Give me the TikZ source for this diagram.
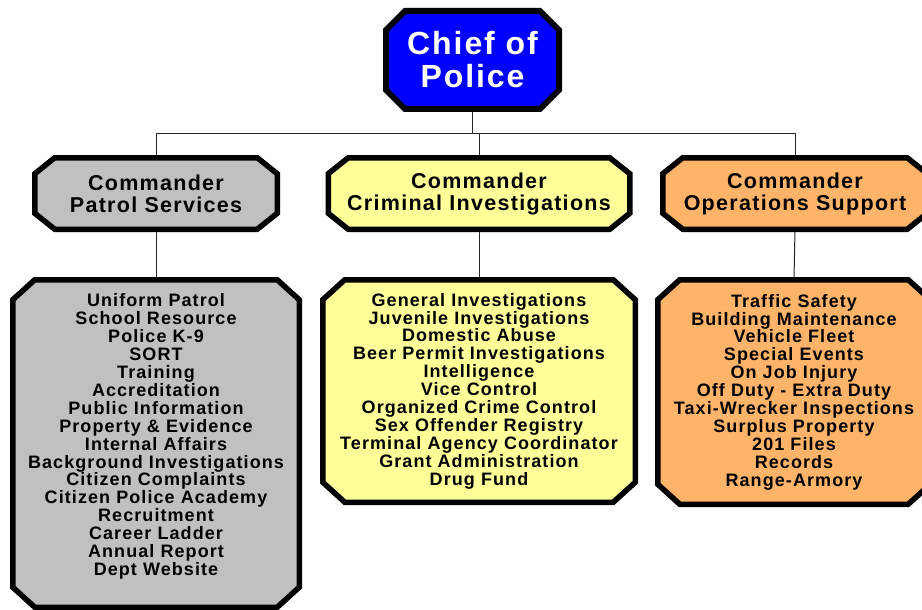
\documentclass[tikz,border=0pt]{standalone}
\usepackage{fontspec}
\setmainfont{Liberation Sans}[LetterSpace=6]
\usetikzlibrary{backgrounds}
\definecolor{chiefblue}{HTML}{0000FF}
\definecolor{patrolgray}{HTML}{C0C0C0}
\definecolor{crimyellow}{HTML}{FFFF99}
\definecolor{opsorange}{HTML}{FFB469}
\newcommand\chamferpath[3]{([xshift=#2]#1.north west) -- ([xshift=-#2]#1.north east) -- ([yshift=-#3]#1.north east) -- ([yshift=#3]#1.south east) -- ([xshift=-#2]#1.south east) -- ([xshift=#2]#1.south west) -- ([yshift=#3]#1.south west) -- ([yshift=-#3]#1.north west) -- cycle}
\tikzset{
  box/.style={rectangle, inner sep=0pt, outer sep=0pt, align=center},
  chiefbox/.style={box, text=white, minimum width=173pt, minimum height=98pt,
    font=\fontsize{32}{33}\selectfont\bfseries},
  cmdbox/.style={box, minimum height=71.5pt, font=\fontsize{21.5}{22}\selectfont\bfseries},
  listbox/.style={box, font=\fontsize{18}{17.9}\selectfont\bfseries},
  listtext/.style={align=center, inner sep=0pt, font=\fontsize{18}{17.9}\selectfont\bfseries},
  frame/.style={draw=black, line width=5.5pt, line join=miter},
  link/.style={draw=black!85, line width=1pt}
}
\begin{document}
\begin{tikzpicture}[x=1pt,y=-1pt]
\useasboundingbox (0,0) rectangle (922,610);
\coordinate (busL) at (156,133);
\coordinate (busR) at (795,133);
\node[chiefbox] (chief) at (472.5,60) {Chief of\\Police};
\node[cmdbox, minimum width=242.5pt] (patrolcmd) at (156,193.5) {Commander\\Patrol Services};
\node[cmdbox, minimum width=301.5pt] (crimcmd) at (479,193.5) {Commander\\Criminal Investigations};
\node[cmdbox, minimum width=264.5pt] (opscmd) at (795,193.5) {Commander\\Operations Support};
\node[listbox, minimum width=286.5pt, minimum height=327.5pt] (patrollist) at (156,443.5) {};
\node[listtext] (patroltext) at (156,436.5) {Uniform Patrol\\School Resource\\Police K-9\\SORT\\Training\\Accreditation\\Public Information\\Property \& Evidence\\Internal Affairs\\Background Investigations\\Citizen Complaints\\Citizen Police Academy\\Recruitment\\Career Ladder\\Annual Report\\Dept Website};
\node[listbox, minimum width=312.5pt, minimum height=222.5pt] (crimlist) at (479,391) {General Investigations\\Juvenile Investigations\\Domestic Abuse\\Beer Permit Investigations\\Intelligence\\Vice Control\\Organized Crime Control\\Sex Offender Registry\\Terminal Agency Coordinator\\Grant Administration\\Drug Fund};
\node[listbox, minimum width=272.5pt, minimum height=224.5pt] (opslist) at (794,392) {Traffic Safety\\Building Maintenance\\Vehicle Fleet\\Special Events\\On Job Injury\\Off Duty - Extra Duty\\Taxi-Wrecker Inspections\\Surplus Property\\201 Files\\Records\\Range-Armory};
\begin{scope}[on background layer]
\draw[link] (busL) -- (busR);
\draw[link] (chief.south) -- (chief.south |- busL);
\draw[link] (busL) -- (patrolcmd.north);
\draw[link] (crimcmd.north |- busL) -- (crimcmd.north);
\draw[link] (busR) -- (opscmd.north);
\draw[link] (patrolcmd.south) -- (patrollist.north);
\draw[link] (crimcmd.south) -- (crimlist.north);
\draw[link] (opscmd.south) -- (opslist.north);
\filldraw[frame, fill=chiefblue, line width=6pt] \chamferpath{chief}{19pt}{19pt};
\filldraw[frame, fill=patrolgray] \chamferpath{patrolcmd}{20pt}{16pt};
\filldraw[frame, fill=crimyellow] \chamferpath{crimcmd}{20pt}{16pt};
\filldraw[frame, fill=opsorange] \chamferpath{opscmd}{20pt}{16pt};
\filldraw[frame, fill=patrolgray] \chamferpath{patrollist}{22pt}{20pt};
\filldraw[frame, fill=crimyellow] \chamferpath{crimlist}{22pt}{20pt};
\filldraw[frame, fill=opsorange] \chamferpath{opslist}{22pt}{20pt};
\end{scope}
\end{tikzpicture}
\end{document}
